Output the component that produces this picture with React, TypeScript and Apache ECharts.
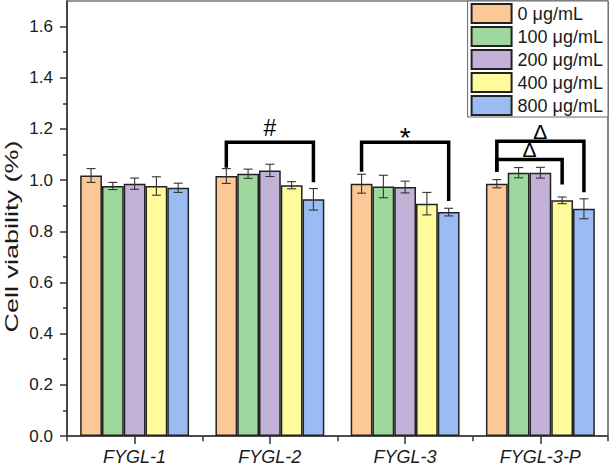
import React, { useEffect, useRef } from "react";
import * as echarts from "echarts";

const CATEGORIES = ["FYGL-1", "FYGL-2", "FYGL-3", "FYGL-3-P"];
const DOSES = ["0 μg/mL", "100 μg/mL", "200 μg/mL", "400 μg/mL", "800 μg/mL"];

const MEAN_0 = [1.018, 1.016, 0.986, 0.986];
const MEAN_100 = [0.977, 1.025, 0.975, 1.029];
const MEAN_200 = [0.986, 1.038, 0.973, 1.029];
const MEAN_400 = [0.977, 0.98, 0.908, 0.921];
const MEAN_800 = [0.97, 0.925, 0.875, 0.888];

const SD_0 = [0.027, 0.029, 0.037, 0.016];
const SD_100 = [0.014, 0.018, 0.044, 0.02];
const SD_200 = [0.022, 0.024, 0.023, 0.021];
const SD_400 = [0.036, 0.014, 0.044, 0.013];
const SD_800 = [0.018, 0.042, 0.015, 0.039];

const Y_TICKS = [0, 0.2, 0.4, 0.6, 0.8, 1.0, 1.2, 1.4, 1.6];
const Y_MINOR_TICKS = [0.1, 0.3, 0.5, 0.7, 0.9, 1.1, 1.3, 1.5];

// significance brackets
const BRACKET_CAT = [1, 2, 3, 3];
const BRACKET_FROM = [0, 0, 0, 0];
const BRACKET_TO = [4, 4, 4, 3];
const BRACKET_TOP = [1.148, 1.148, 1.152, 1.081];
const BRACKET_LEFT_END = [1.048, 1.033, 1.033, 1.033];
const BRACKET_RIGHT_END = [0.992, 0.918, 0.953, 0.983];
const BRACKET_MARK = ["#", "*", "Δ", "Δ"];

const MEANS = [MEAN_0, MEAN_100, MEAN_200, MEAN_400, MEAN_800];
const SDS = [SD_0, SD_100, SD_200, SD_400, SD_800];
const COLORS = ["#FCC896", "#9FD89E", "#C3B1D8", "#FFFB9D", "#9BBCF3"];

const FONT = 'Arial, "Liberation Sans", sans-serif';
const GAP = 0.195;
const N = DOSES.length;

const MARK_STYLE: Record<string, { size: number; lift: number }> = {
  "#": { size: 23, lift: 14 },
  "*": { size: 28, lift: 5 },
  "Δ": { size: 21, lift: 9.5 },
};

export default function App() {
  const ref = useRef<HTMLDivElement>(null);

  useEffect(() => {
    if (!ref.current) return;
    const chart = echarts.init(ref.current, null, { renderer: "svg" });

    const barSeries = DOSES.map((name, i) => ({
      name,
      type: "bar",
      data: MEANS[i],
      barGap: "0%",
      barCategoryGap: (GAP * 100).toFixed(1) + "%",
      itemStyle: { color: COLORS[i], borderColor: "#222", borderWidth: 1.5 },
      z: 2,
    }));

    const errData: number[][] = [];
    MEANS.forEach((arr, s) =>
      arr.forEach((m, c) => errData.push([c, s, m, SDS[s][c]]))
    );

    const bracketData = BRACKET_CAT.map((c, i) => [
      c,
      BRACKET_FROM[i],
      BRACKET_TO[i],
      BRACKET_TOP[i],
      BRACKET_LEFT_END[i],
      BRACKET_RIGHT_END[i],
      i,
    ]);

    const barX = (api: any, cat: number, bar: number) => {
      const center = api.coord([cat, 0])[0];
      const bw = api.size([1, 0])[0];
      const barW = (bw * (1 - GAP)) / N;
      return center + (bar - (N - 1) / 2) * barW;
    };

    const option: any = {
      animation: false,
      backgroundColor: "#fff",
      grid: {
        left: 67,
        right: 3,
        top: 1,
        bottom: 29.3,
        show: true,
        borderColor: "#333",
        borderWidth: 1.2,
        backgroundColor: "transparent",
      },
      legend: {
        data: DOSES,
        orient: "vertical",
        right: 3,
        top: 1,
        itemWidth: 40,
        itemHeight: 19,
        itemGap: 2,
        padding: [2, 5, 1, 3],
        borderColor: "#666",
        borderWidth: 1,
        backgroundColor: "#fff",
        icon: "rect",
        textStyle: {
          fontFamily: FONT,
          fontSize: 18,
          color: "#1a1a1a",
          padding: [0, 0, 0, 1],
        },
      },
      xAxis: [
        {
          type: "category",
          data: CATEGORIES,
          position: "bottom",
          axisLine: { show: true, lineStyle: { color: "#333", width: 1.5 } },
          axisTick: { show: true, alignWithLabel: true, length: 8, lineStyle: { color: "#333", width: 1.5 } },
          axisLabel: {
            margin: 12,
            fontFamily: FONT,
            fontSize: 18,
            fontStyle: "italic",
            color: "#1a1a1a",
          },
          splitLine: { show: false },
        },
        {
          type: "category",
          data: CATEGORIES,
          position: "top",
          offset: -(466 - 1 - 29.3),
          axisLine: { show: false },
          axisTick: { show: true, inside: true, alignWithLabel: false, length: 4.5, lineStyle: { color: "#333", width: 1.5 } },
          axisLabel: { show: false },
          splitLine: { show: false },
        },
      ],
      yAxis: [
        {
          type: "value",
          min: 0,
          max: 1.7,
          interval: 0.2,
          position: "left",
          axisLine: { show: true, lineStyle: { color: "#333", width: 1.5 } },
          axisTick: { show: true, length: 7, customValues: Y_TICKS, lineStyle: { color: "#333", width: 1.5 } },
          axisLabel: {
            margin: 14,
            customValues: Y_TICKS,
            fontFamily: FONT,
            fontSize: 17,
            color: "#1a1a1a",
            formatter: (v: number) => (v > 1.65 ? "" : v.toFixed(1)),
          },
          splitLine: { show: false },
        },
        {
          type: "value",
          min: 0,
          max: 1.7,
          interval: 0.1,
          position: "right",
          offset: -(611 - 67 - 3),
          axisLine: { show: false },
          axisTick: { show: true, inside: true, length: 4, customValues: Y_MINOR_TICKS, lineStyle: { color: "#333", width: 1.5 } },
          axisLabel: { show: false },
          splitLine: { show: false },
        },
      ],
      series: [
        ...barSeries,
        {
          type: "custom",
          name: "errors",
          data: errData,
          encode: { x: 0, y: 2 },
          z: 4,
          silent: true,
          renderItem: (params: any, api: any) => {
            const cat = api.value(0);
            const bar = api.value(1);
            const m = api.value(2);
            const sd = api.value(3);
            const x = barX(api, cat, bar);
            const yt = api.coord([cat, m + sd])[1];
            const yb = api.coord([cat, m - sd])[1];
            const cap = 4.5;
            const style = { stroke: "#333", lineWidth: 1.1 };
            return {
              type: "group",
              children: [
                { type: "line", shape: { x1: x, y1: yt, x2: x, y2: yb }, style },
                { type: "line", shape: { x1: x - cap, y1: yt, x2: x + cap, y2: yt }, style },
                { type: "line", shape: { x1: x - cap, y1: yb, x2: x + cap, y2: yb }, style },
              ],
            };
          },
        },
        {
          type: "custom",
          name: "brackets",
          data: bracketData,
          encode: { x: 0, y: 3 },
          z: 5,
          silent: true,
          renderItem: (params: any, api: any) => {
            const cat = api.value(0);
            const xl = barX(api, cat, api.value(1));
            const xr = barX(api, cat, api.value(2));
            const yTop = api.coord([cat, api.value(3)])[1];
            const yl = api.coord([cat, api.value(4)])[1];
            const yr = api.coord([cat, api.value(5)])[1];
            const mark = BRACKET_MARK[api.value(6)];
            const ms = MARK_STYLE[mark];
            return {
              type: "group",
              children: [
                {
                  type: "polyline",
                  shape: { points: [[xl, yl], [xl, yTop], [xr, yTop], [xr, yr]] },
                  style: { stroke: "#000", lineWidth: 3.5, fill: null, lineJoin: "miter" },
                },
                {
                  type: "text",
                  x: (xl + xr) / 2,
                  y: yTop - ms.lift,
                  style: {
                    text: mark,
                    fontFamily: FONT,
                    fontSize: ms.size,
                    fill: "#000",
                    align: "center",
                    verticalAlign: "middle",
                  },
                },
              ],
            };
          },
        },
      ],
      graphic: [
        {
          type: "text",
          x: 11,
          y: 236.5,
          rotation: Math.PI / 2,
          scaleX: 1.42,
          style: {
            text: "Cell viability (%)",
            fontFamily: FONT,
            fontSize: 19,
            fill: "#1a1a1a",
            align: "center",
            verticalAlign: "middle",
          },
        },
      ],
    };

    chart.setOption(option);
    return () => chart.dispose();
  }, []);

  return (
    <div
      ref={ref}
      style={{ width: 611, height: 466, position: "absolute", left: 0, top: 0 }}
    />
  );
}
